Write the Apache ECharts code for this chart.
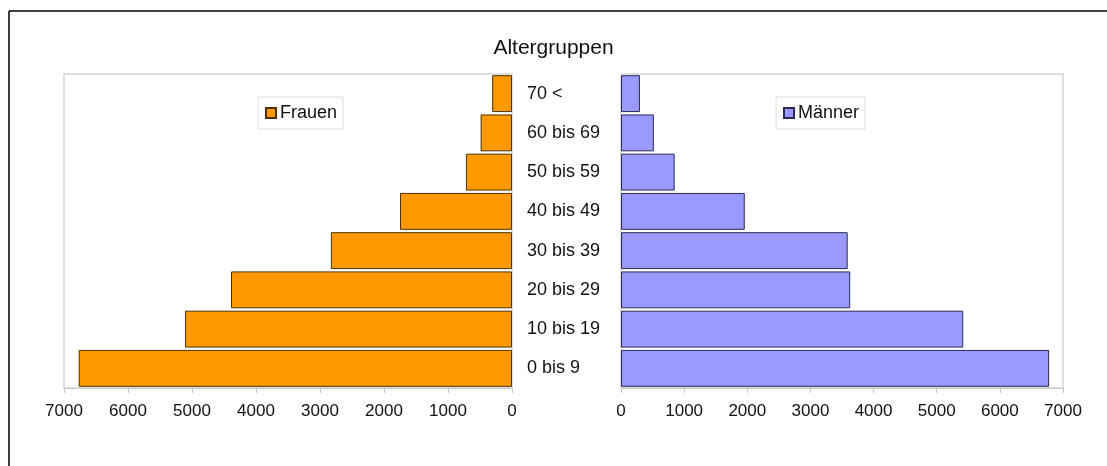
<!DOCTYPE html>
<html>
<head>
<meta charset="utf-8">
<script src="https://cdn.jsdelivr.net/npm/echarts@6/dist/echarts.min.js"></script>
<style>
html,body{margin:0;padding:0;background:#fff;}
#chart{width:1107px;height:466px;}
</style>
</head>
<body>
<div id="chart"></div>
<script>
const categories = ['0 bis 9', '10 bis 19', '20 bis 29', '30 bis 39', '40 bis 49', '50 bis 59', '60 bis 69', '70 <'];
const frauen = [6770, 5110, 4390, 2830, 1750, 720, 490, 310];
const maenner = [6780, 5420, 3630, 3590, 1960, 850, 520, 300];
const axisMin = 0, axisMax = 7000, axisStep = 1000;
const titleText = 'Altergruppen';
const FONT = '"Liberation Sans", Arial, sans-serif';

const chart = echarts.init(document.getElementById('chart'), null, {renderer: 'canvas'});

const valueAxisCommon = {
  type: 'value', min: axisMin, max: axisMax, interval: axisStep,
  splitLine: {show: false},
  axisLine: {show: true, lineStyle: {color: '#c8c8c8', width: 1}},
  axisTick: {show: true, length: 5, lineStyle: {color: '#c8c8c8'}},
  axisLabel: {color: '#111', fontSize: 17, fontFamily: FONT, margin: 15,
    formatter: function (v) { return String(v); }}
};

chart.setOption({
  animation: false,
  backgroundColor: '#fff',
  title: {
    text: titleText, left: 'center', top: 33,
    textStyle: {fontFamily: FONT, fontSize: 21, fontWeight: 'normal', color: '#111'}
  },
  graphic: [
    {type: 'line', shape: {x1: 9, y1: 11, x2: 1107, y2: 11}, style: {stroke: '#000', lineWidth: 1.5}},
    {type: 'line', shape: {x1: 9, y1: 11, x2: 9, y2: 466}, style: {stroke: '#000', lineWidth: 1.5}}
  ],
  legend: [
    {
      data: ['Frauen'], left: 258, top: 97, orient: 'horizontal',
      icon: 'rect', itemWidth: 10, itemHeight: 10, itemGap: 5,
      padding: [7, 6, 7, 7], borderColor: '#dcdcdc', borderWidth: 1,
      textStyle: {fontFamily: FONT, fontSize: 18, color: '#111', padding: [0, 0, 0, -1]}
    },
    {
      data: ['Männer'], left: 776, top: 97, orient: 'horizontal',
      icon: 'rect', itemWidth: 10, itemHeight: 10, itemGap: 5,
      padding: [7, 6, 7, 7], borderColor: '#dcdcdc', borderWidth: 1,
      textStyle: {fontFamily: FONT, fontSize: 18, color: '#111', padding: [0, 0, 0, -1]}
    }
  ],
  grid: [
    {left: 64, top: 74, width: 448, height: 314, show: true, borderColor: '#d6d6d6', borderWidth: 1.5, backgroundColor: '#fff'},
    {left: 621, top: 74, width: 442, height: 314, show: true, borderColor: '#d6d6d6', borderWidth: 1.5, backgroundColor: '#fff'}
  ],
  xAxis: [
    Object.assign({gridIndex: 0, inverse: true}, valueAxisCommon),
    Object.assign({gridIndex: 1}, valueAxisCommon)
  ],
  yAxis: [
    {
      type: 'category', gridIndex: 0, data: categories, position: 'right',
      axisLine: {show: false}, axisTick: {show: false}, axisLabel: {show: false}
    },
    {
      type: 'category', gridIndex: 1, data: categories, position: 'left',
      axisLine: {show: false}, axisTick: {show: false},
      axisLabel: {show: true, align: 'left', margin: 94, color: '#111', fontSize: 18, fontFamily: FONT}
    }
  ],
  series: [
    {
      name: 'Frauen', type: 'bar', xAxisIndex: 0, yAxisIndex: 0, data: frauen,
      barCategoryGap: '6%',
      itemStyle: {color: '#FF9900', borderColor: '#4d3000', borderWidth: 1}
    },
    {
      name: 'Männer', type: 'bar', xAxisIndex: 1, yAxisIndex: 1, data: maenner,
      barCategoryGap: '6%',
      itemStyle: {color: '#9999FF', borderColor: '#2a2a55', borderWidth: 1}
    }
  ]
});
</script>
</body>
</html>
